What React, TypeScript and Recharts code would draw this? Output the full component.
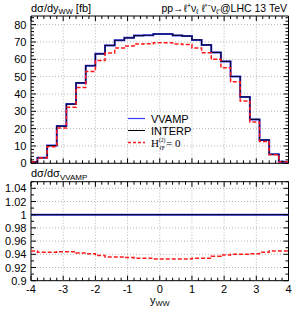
import React from 'react';
import { LineChart, Line, XAxis, YAxis, ReferenceLine, ReferenceArea } from 'recharts';

// ---------- data ----------
const binEdges = [-4, -3.8, -3.5, -3.2, -2.9, -2.6, -2.3, -2.0, -1.7, -1.4, -1.1, -0.8, -0.5, -0.2, 0.1, 0.4, 0.7, 1.0, 1.3, 1.6, 1.9, 2.2, 2.5, 2.8, 3.1, 3.4, 3.7, 4.0];
const vvamp = [0.8, 3.2, 10.2, 21.5, 34.2, 46.4, 56.3, 63.2, 68.0, 71.0, 72.4, 73.7, 73.9, 74.6, 74.6, 73.8, 73.4, 71.2, 68.3, 64.0, 58.8, 50.1, 38.3, 25.3, 13.4, 5.2, 0.9];
const interp = [0.8, 3.2, 10.2, 21.5, 34.2, 46.4, 56.3, 63.2, 68.0, 71.0, 72.4, 73.7, 73.9, 74.6, 74.6, 73.8, 73.4, 71.2, 68.3, 64.0, 58.8, 50.1, 38.3, 25.3, 13.4, 5.2, 0.9];
const h2zero = [0.76, 3.0, 9.6, 20.3, 32.3, 43.7, 53.0, 59.3, 63.6, 66.5, 67.7, 68.8, 69.0, 69.6, 69.6, 68.9, 68.5, 66.5, 63.8, 60.0, 55.2, 47.1, 36.0, 23.8, 12.6, 4.9, 0.85];
const ratioVvamp = [1, 1, 1, 1, 1, 1, 1, 1, 1, 1, 1, 1, 1, 1, 1, 1, 1, 1, 1, 1, 1, 1, 1, 1, 1, 1, 1];
const ratioInterp = [1, 1, 1, 1, 1, 1, 1, 1, 1, 1, 1, 1, 1, 1, 1, 1, 1, 1, 1, 1, 1, 1, 1, 1, 1, 1, 1];
const ratioH2zero = [0.945, 0.943, 0.943, 0.944, 0.944, 0.942, 0.941, 0.938, 0.936, 0.936, 0.935, 0.934, 0.934, 0.933, 0.933, 0.933, 0.933, 0.934, 0.934, 0.937, 0.939, 0.94, 0.94, 0.941, 0.943, 0.945, 0.945];

const seriesNames = ['VVAMP', 'INTERP', 'H0'];
const xMajorTicks = [-4, -3, -2, -1, 0, 1, 2, 3, 4];
const xGridTicks = [-3, -2, -1, 0, 1, 2, 3];
const yMajorTop = [0, 10, 20, 30, 40, 50, 60, 70, 80];
const yGridTop = [10, 20, 30, 40, 50, 60, 70, 80];
const yMajorBottom = [0.9, 0.92, 0.94, 0.96, 0.98, 1, 1.02, 1.04];
const yGridBottom = [0.92, 0.94, 0.96, 0.98, 1, 1.02, 1.04];

const xMinorTicks: number[] = [];
for (let k = -20; k <= 20; k++) xMinorTicks.push(Math.round(k * 2) / 10);
const yMinorTop: number[] = [];
for (let k = 0; k <= 42; k++) yMinorTop.push(k * 2);
const yMinorBottom: number[] = [];
for (let k = 90; k <= 105; k++) yMinorBottom.push(k / 100);

const n = vvamp.length;
const mainRows = binEdges.map((x, i) => ({
  x,
  vvamp: vvamp[Math.min(i, n - 1)],
  interp: interp[Math.min(i, n - 1)],
  h2zero: h2zero[Math.min(i, n - 1)],
}));
const ratioRows = binEdges.map((x, i) => ({
  x,
  vvamp: ratioVvamp[Math.min(i, n - 1)],
  interp: ratioInterp[Math.min(i, n - 1)],
  h2zero: ratioH2zero[Math.min(i, n - 1)],
}));

// ---------- layout ----------
const W = 301;
const H = 316;
const PL = 31;
const PR = 288.5;
const T1 = 16;
const B1 = 163.3;
const T2 = 181.7;
const B2 = 280.7;
const XH = 10;
const FONT = '"Liberation Sans", Arial, Helvetica, sans-serif';
const SERIF = '"Liberation Serif", "Times New Roman", serif';
const BLUE = '#3b3bff';
const RED = '#ff1a1a';
const GRID = '#b4b4b4';

const isIn = (v: number, arr: number[]) => arr.some((m) => Math.abs(m - v) < 1e-9);

const makeXTick = (top: number, bottom: number, showLabel: boolean) => (p: any) => {
  const v = p.payload.value;
  const major = isIn(v, xMajorTicks);
  const len = major ? 5 : 3;
  const x = p.x;
  return (
    <g>
      <line x1={x} x2={x} y1={bottom} y2={bottom - len} stroke="#000" strokeWidth={1} />
      <line x1={x} x2={x} y1={top} y2={top + len} stroke="#000" strokeWidth={1} />
      {showLabel && major && (
        <text x={x} y={bottom + 12.5} textAnchor="middle" fontSize={11} fill="#000" fontFamily={FONT}>
          {String(v)}
        </text>
      )}
    </g>
  );
};

const makeYTick = (majors: number[]) => (p: any) => {
  const v = p.payload.value;
  const major = isIn(v, majors);
  const len = major ? 5 : 3;
  const y = p.y;
  return (
    <g>
      <line x1={PL} x2={PL + len} y1={y} y2={y} stroke="#000" strokeWidth={1} />
      <line x1={PR} x2={PR - len} y1={y} y2={y} stroke="#000" strokeWidth={1} />
      {major && (
        <text x={PL - 4.5} y={y + 4} textAnchor="end" fontSize={11} fill="#000" fontFamily={FONT}>
          {String(v)}
        </text>
      )}
    </g>
  );
};

const seriesLines = (names: string[]) => [
  <Line key="a" type="stepAfter" dataKey="vvamp" name={names[0]} stroke={BLUE} strokeWidth={2} dot={false} isAnimationActive={false} />,
  <Line key="b" type="stepAfter" dataKey="interp" name={names[1]} stroke="#0a0a30" strokeWidth={1.2} dot={false} isAnimationActive={false} />,
  <Line key="c" type="stepAfter" dataKey="h2zero" name={names[2]} stroke={RED} strokeWidth={1.5} strokeDasharray="4 2" dot={false} isAnimationActive={false} />,
];

export default function App() {
  return (
    <div style={{ position: 'absolute', left: 0, top: 0, width: W, height: H, background: '#fff', overflow: 'hidden' }}>
      <div style={{ position: 'absolute', left: 0, top: 0 }}>
        <LineChart width={W} height={H} data={mainRows} margin={{ top: T1, right: W - PR, bottom: H - B1 - XH, left: 0 }}>
          <XAxis dataKey="x" type="number" domain={[-4, 4]} ticks={xMinorTicks} interval={0} height={XH} axisLine={false} tickLine={false} tick={makeXTick(T1, B1, false)} />
          <YAxis type="number" domain={[0, 85]} ticks={yMinorTop} interval={0} width={PL} axisLine={false} tickLine={false} tick={makeYTick(yMajorTop)} />
          {yGridTop.map((v) => (
            <ReferenceLine key={'gy' + v} y={v} stroke={GRID} strokeDasharray="1 2" />
          ))}
          {xGridTicks.map((v) => (
            <ReferenceLine key={'gx' + v} x={v} stroke={GRID} strokeDasharray="1 2" />
          ))}
          {seriesLines(seriesNames)}
          <ReferenceArea x1={-4} x2={4} y1={0} y2={85} fill="none" fillOpacity={0} stroke="#000" strokeWidth={1} />
        </LineChart>
      </div>
      <div style={{ position: 'absolute', left: 0, top: 0 }}>
        <LineChart width={W} height={H} data={ratioRows} margin={{ top: T2, right: W - PR, bottom: H - B2 - XH, left: 0 }}>
          <XAxis dataKey="x" type="number" domain={[-4, 4]} ticks={xMinorTicks} interval={0} height={XH} axisLine={false} tickLine={false} tick={makeXTick(T2, B2, true)} />
          <YAxis type="number" domain={[0.9, 1.05]} ticks={yMinorBottom} interval={0} width={PL} axisLine={false} tickLine={false} tick={makeYTick(yMajorBottom)} />
          {yGridBottom.map((v) => (
            <ReferenceLine key={'gy' + v} y={v} stroke={GRID} strokeDasharray="1 2" />
          ))}
          {xGridTicks.map((v) => (
            <ReferenceLine key={'gx' + v} x={v} stroke={GRID} strokeDasharray="1 2" />
          ))}
          {seriesLines(seriesNames)}
          <ReferenceArea x1={-4} x2={4} y1={0.9} y2={1.05} fill="none" fillOpacity={0} stroke="#000" strokeWidth={1} />
        </LineChart>
      </div>
      <svg width={W} height={H} style={{ position: 'absolute', left: 0, top: 0, pointerEvents: 'none' }}>
        <g fontFamily={FONT} fill="#000">
          <text x={31} y={12} fontSize={11}>
            dσ/dy<tspan fontSize={7.5} dy={2}>WW</tspan>
            <tspan dy={-2}> [fb]</tspan>
          </text>
          <text x={287} y={12} fontSize={10.5} textAnchor="end">
            pp→ℓ<tspan fontSize={7} dy={-4}>+</tspan>
            <tspan dy={4}>ν</tspan>
            <tspan fontSize={7} dy={2}>ℓ</tspan>
            <tspan dy={-2}> ℓ'</tspan>
            <tspan fontSize={7} dy={-4}>−</tspan>
            <tspan dy={4}>ν</tspan>
            <tspan fontSize={7} dy={2}>ℓ'</tspan>
            <tspan dy={-2}>@LHC 13 TeV</tspan>
          </text>
          <text x={31} y={177} fontSize={11}>
            dσ/dσ<tspan fontSize={8} dy={3}>VVAMP</tspan>
          </text>
          <text x={150} y={304} fontSize={11}>
            y<tspan fontSize={7.5} dy={2}>WW</tspan>
          </text>
          {/* legend */}
          <line x1={128} x2={145} y1={118.5} y2={118.5} stroke={BLUE} strokeWidth={1.2} />
          <text x={151} y={122.5} fontSize={11}>{seriesNames[0]}</text>
          <line x1={128} x2={145} y1={130.5} y2={130.5} stroke="#000" strokeWidth={1} />
          <text x={151} y={134.5} fontSize={11}>{seriesNames[1]}</text>
          <line x1={128} x2={145} y1={142.5} y2={142.5} stroke={RED} strokeWidth={1.3} strokeDasharray="3 2" />
          <text x={151} y={146.5} fontSize={11} fontFamily={SERIF}>
            H<tspan fontSize={5.5} dy={-5}>(2)</tspan>
          </text>
          <text x={159} y={149.5} fontSize={5.5} fontFamily={SERIF}>ℓF</text>
          <text x={166} y={146.5} fontSize={11} fontFamily={SERIF}>= 0</text>
        </g>
      </svg>
    </div>
  );
}
